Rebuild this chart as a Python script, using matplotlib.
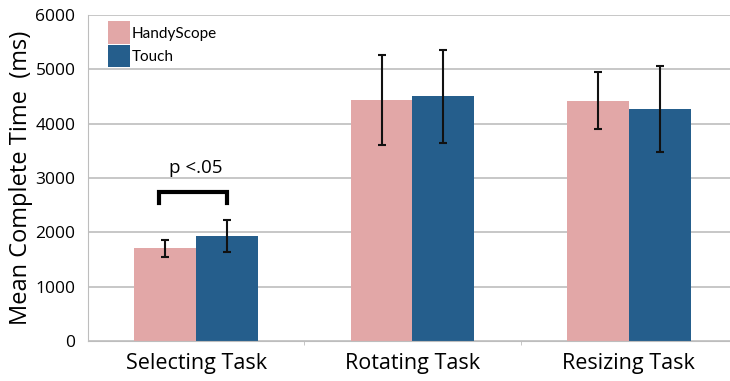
import matplotlib
matplotlib.use("Agg")
import matplotlib.pyplot as plt
import numpy as np

# Datos
tareas = ["Selecting Task", "Rotating Task", "Resizing Task"]
handy = [1706, 4436, 4423]
handy_err = [153, 830, 520]
touch = [1933, 4509, 4265]
touch_err = [300, 856, 790]

col_handy = "#E2A7A7"
col_touch = "#255E8C"

plt.rcParams["font.family"] = ["Open Sans", "DejaVu Sans"]

fig = plt.figure(figsize=(7.30, 3.81), dpi=100)
ax = fig.add_axes([88 / 730, 40 / 381, 1 - 88 / 730, 326 / 381])

x = np.arange(len(tareas))
ancho = 0.286

ax.bar(x - ancho / 2, handy, ancho, color=col_handy, label="HandyScope", zorder=2)
ax.bar(x + ancho / 2, touch, ancho, color=col_touch, label="Touch", zorder=2)
ax.errorbar(x - ancho / 2, handy, yerr=handy_err, fmt="none", ecolor="#111111",
            elinewidth=1.5, capsize=3, capthick=1.5, zorder=3)
ax.errorbar(x + ancho / 2, touch, yerr=touch_err, fmt="none", ecolor="#111111",
            elinewidth=1.5, capsize=3, capthick=1.5, zorder=3)

# Corchete de significancia
x1, x2 = x[0] - ancho / 2 - 0.03, x[0] + ancho / 2
ax.plot([x1, x1, x2, x2], [2545, 2748, 2748, 2545], color="black", lw=3,
        solid_joinstyle="miter", zorder=3)
ax.text(x[0], 3180, "p <.05", ha="center", va="center", fontsize=13.5)

ax.set_ylim(0, 6000)
ax.set_xlim(-0.5, 2.468)
ax.set_yticks(np.arange(0, 6001, 1000))
ax.yaxis.grid(True, color="#bdbdbd", lw=1.2, zorder=0)
ax.set_axisbelow(True)

ax.set_xticks(x)
ax.set_xticklabels(tareas, fontsize=15.5)
ax.set_xticks([0.5, 1.5], minor=True)
ax.tick_params(axis="x", which="major", length=0, pad=9)
ax.tick_params(axis="x", which="minor", length=3, color="#bdbdbd")
ax.tick_params(axis="y", length=0, labelsize=12.5, pad=9)

for s in ["top", "right"]:
    ax.spines[s].set_visible(False)
ax.spines["left"].set_color("#bdbdbd")
ax.spines["bottom"].set_color("#bdbdbd")

ax.set_ylabel("Mean Complete Time  (ms)", fontsize=17, labelpad=2)

ax.legend(loc="upper left", bbox_to_anchor=(0.012, 1.018), frameon=False,
          handlelength=1.45, handleheight=1.9, handletextpad=0.1,
          labelspacing=0.05, borderpad=0.3,
          prop={"family": "Lato", "size": 11})

fig.savefig("out.png", dpi=100)
